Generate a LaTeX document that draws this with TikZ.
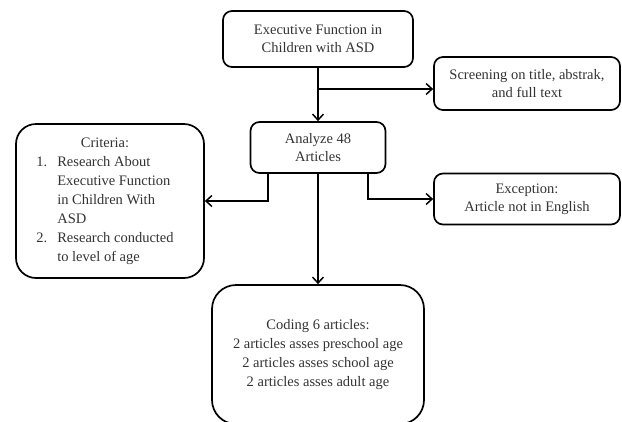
\documentclass[tikz,border=0pt]{standalone}
\usepackage{fontspec}
\setmainfont{Liberation Serif}
\usetikzlibrary{arrows.meta}
\begin{document}
\begin{tikzpicture}[x=1pt,y=-1pt,
  box/.style={draw=black, line width=1.7pt, align=center, inner sep=0pt,
    text=black!80, font=\fontsize{14.5}{18}\selectfont},
  arr/.style={line width=1.6pt, -{Straight Barb[length=6pt,width=11pt,line width=1.5pt]}}]
\useasboundingbox (0,0) rectangle (622,421);
\node[box, rounded corners=9pt, minimum width=190pt, minimum height=56pt] (top) at (318,39)
  {Executive Function in\\Children with ASD};
\node[box, rounded corners=9pt, minimum width=186pt, minimum height=53pt] (screen) at (527,83.5)
  {Screening on title, abstrak,\\and full text};
\node[box, rounded corners=9pt, minimum width=135pt, minimum height=51pt] (analyze) at (318,147.5)
  {Analyze 48\\Articles};
\node[box, rounded corners=20pt, minimum width=188pt, minimum height=154pt] (criteria) at (110,201)
  {\fontsize{14.5}{19}\selectfont
   \begin{tabular}{@{}p{21pt}@{}l@{}}
   \multicolumn{2}{c}{Criteria:}\\
   1. & Research About\\
      & Executive Function\\
      & in Children With\\
      & ASD\\
   2. & Research conducted\\
      & to level of age
   \end{tabular}\kern10pt};
\node[box, rounded corners=9pt, minimum width=186pt, minimum height=51pt] (exception) at (527,199)
  {Exception:\\Article not in English};
\node[box, rounded corners=24pt, minimum width=212pt, minimum height=139pt,
  font=\fontsize{14.5}{19}\selectfont] (coding) at (318,354.5)
  {Coding 6 articles:\\2 articles asses preschool age\\2 articles asses school age\\2 articles asses adult age};
\coordinate (b1) at (318,89);
\draw[arr] (top.south) -- (analyze.north);
\draw[arr] (b1) -- (b1 -| screen.west);
\draw[arr] ([xshift=-50pt]analyze.south) |- (criteria.east);
\draw[arr] ([xshift=50pt]analyze.south) |- (exception.west);
\draw[arr] (analyze.south) -- (coding.north);
\end{tikzpicture}
\end{document}
